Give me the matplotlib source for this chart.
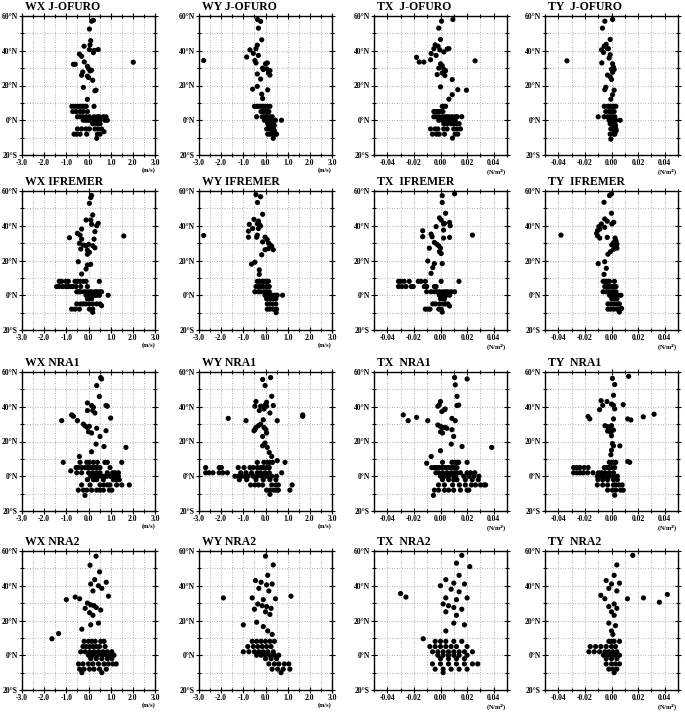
import numpy as np
import matplotlib.pyplot as plt
from matplotlib.ticker import MultipleLocator, FixedLocator

plt.rcParams['font.family'] = ['Liberation Serif', 'DejaVu Serif']
plt.rcParams['font.weight'] = 'bold'

# ----- data: (value, latitude) -----
wx_jofuro = [(0.14, 57.0), (0.22, 57.5), (0.04, 52.5), (-0.20, 42.6), (0.07, 43.4), (0.10, 45.8), (0.26, 40.2),
             (0.44, 40.7), (0.04, 40.7), (0.22, 38.9), (-0.41, 38.1), (-0.31, 36.8), (-0.68, 32.2), (-0.60, 32.2),
             (-0.19, 33.6), (-0.05, 31.1), (2.02, 33.4), (0.00, 29.8), (0.07, 28.4), (0.14, 28.8), (-0.26, 27.8),
             (-0.31, 25.9), (-0.05, 25.4), (0.00, 24.6), (0.19, 23.0), (-0.23, 18.9), (0.34, 17.3), (0.29, 17.0),
             (-0.05, 12.0),
             (-0.75, 8), (-0.62, 8), (-0.50, 8), (-0.40, 8), (-0.30, 8), (-0.20, 8), (-0.10, 8), (0.25, 8),
             (-0.71, 5), (-0.56, 5), (-0.38, 5), (-0.23, 5), (-0.05, 5),
             (-0.50, 2), (-0.38, 2), (-0.26, 2), (-0.11, 2), (0.04, 2), (0.25, 2), (0.40, 2), (0.49, 2), (0.67, 2), (0.79, 2),
             (-0.23, 0), (-0.11, 0), (0.00, 0), (0.10, 0), (0.22, 0), (0.37, 0), (0.52, 0), (0.74, 0), (0.85, 0),
             (0.19, -2), (0.37, -2), (0.52, -2),
             (-0.50, -5), (-0.31, -5), (-0.11, -5), (0.04, -5), (0.29, -5), (0.44, -5), (0.59, -5),
             (-0.65, -8), (-0.53, -8), (-0.38, -8), (-0.08, -8), (0.40, -8), (0.52, -8),
             (0.37, -10.4), (0.70, -6.6)]

wy_jofuro = [(-0.36, 58.0), (-0.22, 56.9), (-0.32, 53.0), (-0.17, 46.3), (-0.37, 43.2), (-0.43, 41.2), (-0.70, 40.5),
             (-0.55, 38.5), (-0.32, 37.3), (-0.85, 36.4), (-0.48, 34.4), (-0.43, 33.0), (-2.79, 34.4), (0.00, 32.5),
             (0.08, 33.0), (-0.13, 30.0), (-0.10, 29.2), (0.05, 29.6), (0.20, 28.6), (0.13, 27.2), (0.20, 26.0),
             (-0.37, 26.6), (-0.22, 23.7), (0.10, 17.5), (-0.58, 17.9), (-0.37, 19.5), (-0.17, 15.0), (-0.13, 12.5),
             (-0.50, 8), (-0.40, 8), (-0.30, 8), (-0.20, 8), (-0.10, 8), (0.00, 8), (0.10, 8), (0.20, 8),
             (-0.20, 5), (-0.10, 5), (0.00, 5), (0.05, 5), (0.15, 5),
             (-0.40, 2), (-0.15, 2), (-0.05, 2), (0.05, 2), (0.10, 2), (0.20, 2), (0.30, 2),
             (-0.05, 0), (0.05, 0), (0.15, 0), (0.25, 0), (0.35, 0), (0.45, 0), (0.72, 0),
             (0.10, -1), (0.20, -1), (0.30, -1),
             (0.10, -2), (0.20, -2), (0.30, -2), (0.35, -2),
             (0.15, -3), (0.25, -3), (0.40, -3),
             (0.05, -5), (0.15, -5), (0.25, -5), (0.35, -5),
             (0.30, -6), (0.40, -6),
             (0.10, -8), (0.20, -8), (0.30, -8), (0.45, -8), (0.50, -8),
             (0.35, -10.4)]

tx_jofuro = [(0.0093, 58.0), (0.0008, 57.0), (-0.0013, 53.0), (0.0, 46.5), (-0.004, 43.4), (-0.0018, 42.6),
             (-0.005, 41.2), (-0.0005, 40.5), (0.005, 41.0), (0.0063, 41.2), (0.0025, 39.3), (-0.007, 38.4),
             (-0.0033, 37.3), (-0.0075, 34.8), (-0.018, 36.2), (-0.016, 33.5), (-0.0125, 33.5), (0.026, 34.2),
             (0.0, 32.5), (0.0013, 31.4), (-0.0013, 30.0), (0.0025, 29.4), (0.0038, 28.5), (0.0013, 27.2),
             (0.0033, 25.7), (-0.0025, 26.3), (0.0088, 23.4), (0.0, 19.2), (0.013, 17.6), (0.0195, 17.3),
             (0.0088, 14.7), (0.0063, 12.1),
             (0.0013, 8), (0.0025, 8), (0.0038, 8),
             (-0.005, 5), (-0.004, 5), (-0.0025, 5), (-0.0013, 5), (0.0, 5), (0.0018, 5),
             (-0.005, 2), (-0.0033, 2), (-0.0013, 2), (0.0013, 2), (0.0033, 2), (0.005, 2), (0.0068, 2),
             (0.0088, 2), (0.011, 2), (0.0125, 2), (0.016, 2),
             (-0.0013, 0), (0.0013, 0), (0.0038, 0), (0.0063, 0), (0.0088, 0), (0.011, 0),
             (0.0025, -2), (0.005, -2), (0.008, -2), (0.010, -2), (0.012, -2), (0.014, -2),
             (-0.0075, -5), (-0.004, -5), (-0.002, -5), (0.0025, -5), (0.005, -5), (0.010, -5), (0.0125, -5), (0.015, -5),
             (-0.006, -8), (-0.003, -8), (-0.001, -8), (0.003, -8), (0.011, -8), (0.013, -8),
             (0.009, -10.3)]

ty_jofuro = [(0.0008, 58.0), (-0.005, 57.0), (-0.0068, 53.0), (-0.001, 46.5), (-0.004, 43.7), (-0.0055, 42.6),
             (-0.003, 41.2), (-0.0075, 40.5), (-0.006, 39.0), (-0.0023, 41.2), (-0.001, 37.7), (-0.0018, 35.8),
             (-0.0073, 33.0), (-0.0335, 34.2), (0.0008, 32.5), (0.0015, 30.5), (0.0, 29.4), (0.002, 29.2),
             (0.0008, 27.6), (-0.003, 26.0), (0.0, 23.5), (-0.001, 25.0), (-0.005, 17.6), (-0.0043, 19.0),
             (0.002, 17.3), (0.0008, 14.7), (-0.0005, 12.1),
             (-0.0055, 8), (-0.003, 8), (-0.0018, 8), (-0.0005, 8), (0.0008, 8), (0.002, 8), (0.0033, 8),
             (-0.0043, 5), (-0.0018, 5), (0.0, 5), (0.002, 5),
             (-0.010, 2), (-0.0055, 2), (-0.003, 2), (-0.001, 2), (0.0008, 2), (0.0025, 2),
             (-0.0018, 0), (0.0, 0), (0.0015, 0), (0.0033, 0), (0.0065, 0),
             (0.0, -1), (0.002, -1),
             (-0.001, -2), (0.0008, -2), (0.0025, -2),
             (0.001, -3), (0.003, -3),
             (-0.0005, -5), (0.0015, -5), (0.0033, -5),
             (0.002, -6), (0.0035, -6),
             (-0.001, -8), (0.0015, -8), (0.0025, -8),
             (-0.0005, -10.9)]

wx_ifremer = [(0.14, 57.4), (0.10, 56.2), (0.04, 52.9), (0.19, 46.2), (-0.11, 43.3), (0.10, 43.3), (0.14, 40.8),
              (0.44, 41.4), (0.37, 40.0), (0.29, 36.6), (-0.31, 38.1), (-0.50, 35.6), (-0.38, 34.6), (-0.86, 33.1),
              (-0.31, 32.3), (1.59, 34.1), (0.25, 32.3), (-0.41, 29.9), (-0.23, 28.9), (-0.11, 28.5), (0.0, 29.3),
              (0.19, 28.5), (0.29, 27.3), (-0.35, 26.6), (-0.05, 26.0), (0.04, 24.7), (-0.05, 23.6), (-0.46, 19.3),
              (-0.05, 17.4), (0.10, 17.8), (-0.11, 15.1), (-0.31, 12.2),
              (-1.32, 8), (-1.21, 8), (-1.02, 8), (-0.91, 8), (-0.61, 8), (-0.50, 8), (-0.38, 8), (-0.23, 8), (-0.11, 8), (0.49, 8),
              (-1.44, 5), (-1.32, 5), (-1.17, 5), (-1.02, 5), (-0.91, 5), (-0.80, 5), (-0.71, 5), (-0.56, 5), (-0.35, 5), (-0.05, 5),
              (-0.53, 2), (-0.45, 2), (-0.38, 2), (-0.23, 2), (-0.11, 2), (0.04, 2), (0.14, 2), (0.29, 2), (0.37, 2), (0.49, 2), (0.59, 2),
              (-0.11, 0), (0.0, 0), (0.10, 0), (0.19, 0), (0.29, 0), (0.37, 0), (0.49, 0), (0.89, 0),
              (-0.05, -2), (0.04, -2), (0.14, -2),
              (-0.53, -5), (-0.35, -5), (-0.23, -5), (-0.11, -5), (0.04, -5), (0.19, -5), (0.37, -5), (0.52, -5),
              (0.59, -6.0),
              (-0.76, -8), (-0.61, -8), (-0.41, -8), (0.04, -8), (0.19, -8),
              (0.19, -9.8)]

wy_ifremer = [(-0.43, 57.9), (-0.22, 56.7), (-0.36, 53.4), (-0.13, 46.6), (-0.52, 43.7), (-0.32, 42.7), (-0.73, 40.8),
              (-0.37, 41.2), (-0.28, 40.8), (-0.22, 39.8), (-0.58, 38.4), (-0.32, 38.4), (-0.77, 36.9), (-0.37, 34.6),
              (-0.40, 33.4), (-0.77, 33.4), (-2.79, 34.4), (-0.02, 33.4), (0.08, 32.0), (-0.13, 30.7), (0.13, 30.1),
              (0.20, 29.1), (0.28, 28.2), (0.13, 26.8), (0.35, 26.2), (-0.02, 26.2), (-0.17, 23.3), (-0.63, 17.9),
              (-0.48, 19.0), (-0.28, 14.6), (-0.28, 12.0),
              (-0.37, 8), (-0.28, 8), (-0.17, 8), (-0.10, 8), (-0.02, 8), (0.05, 8), (0.13, 8),
              (-0.43, 5), (-0.32, 5), (-0.22, 5), (-0.10, 5), (0.05, 5), (0.17, 5),
              (-0.48, 2), (-0.32, 2), (-0.22, 2), (-0.07, 2), (0.05, 2), (0.17, 2),
              (-0.02, 0), (0.08, 0), (0.20, 0), (0.32, 0), (0.43, 0), (0.53, 0), (0.77, 0),
              (0.05, -2), (0.20, -2), (0.35, -2), (0.47, -2),
              (0.08, -5), (0.20, -5), (0.32, -5), (0.47, -5),
              (0.08, -8), (0.20, -8), (0.35, -8), (0.50, -8),
              (0.48, -10.0)]

tx_ifremer = [(0.0106, 58.4), (0.0013, 57.3), (0.0013, 53.4), (0.0038, 47.2), (-0.0008, 44.5), (0.0005, 43.3),
              (0.0023, 41.0), (0.0068, 41.9), (0.0073, 40.0), (0.0030, 41.3), (-0.0033, 39.5), (0.0023, 37.5),
              (-0.0134, 37.1), (-0.0071, 35.2), (-0.0063, 33.7), (-0.0134, 33.7), (0.0023, 32.9), (0.0068, 33.3),
              (0.024, 34.6), (-0.0046, 30.4), (-0.0028, 29.4), (-0.0013, 28.4), (0.0, 27.1), (-0.0084, 27.1),
              (-0.0008, 25.1), (0.0005, 24.0), (-0.0096, 19.7), (-0.0046, 18.2), (0.0013, 18.2), (-0.0058, 15.9),
              (-0.0071, 12.6),
              (-0.0316, 8), (-0.0299, 8), (-0.0273, 8), (-0.0235, 8), (-0.0167, 8), (-0.0147, 8), (-0.0114, 8), (0.0005, 8), (0.0139, 8),
              (-0.0316, 5), (-0.0290, 5), (-0.0260, 5), (-0.0220, 5), (-0.0205, 5), (-0.0122, 5), (-0.0104, 5), (-0.0046, 5), (-0.0033, 5),
              (-0.0104, 2), (-0.0071, 2), (-0.0046, 2), (-0.0028, 2), (-0.0008, 2), (0.0018, 2), (0.0038, 2), (0.0056, 2), (0.0081, 2), (0.0106, 2),
              (-0.0008, 0), (0.0005, 0), (0.0023, 0), (0.0043, 0), (0.0068, 0),
              (0.0, -2), (0.0013, -2), (0.0030, -2),
              (-0.0058, -5), (-0.0038, -5), (-0.0008, -5), (0.0023, -5), (0.0038, -5), (0.0056, -5), (0.0068, -6.2),
              (-0.0114, -8), (-0.0096, -8), (-0.0079, -8), (-0.0013, -8), (0.0005, -8),
              (0.0013, -9.7)]

ty_ifremer = [(0.0, 58.4), (-0.0015, 57.4), (-0.0056, 53.5), (0.0, 47.2), (-0.0051, 43.9), (-0.0032, 42.6),
              (0.0017, 42.0), (0.0002, 41.0), (-0.0076, 41.0), (-0.0095, 39.5), (-0.0051, 39.1), (-0.0105, 37.2),
              (-0.0088, 38.1), (-0.0112, 35.6), (-0.0105, 34.2), (-0.0088, 32.9), (-0.038, 34.6), (-0.0032, 33.3),
              (0.0027, 32.9), (0.0034, 31.3), (0.0017, 30.4), (0.0041, 29.4), (0.0002, 29.0), (0.0027, 27.8),
              (0.0017, 26.5), (0.0041, 27.1), (-0.0027, 23.6), (-0.0007, 25.1), (-0.010, 18.2), (-0.0051, 19.3),
              (-0.0039, 15.5), (-0.0056, 12.0),
              (-0.0063, 8), (-0.0051, 8), (-0.0039, 8), (-0.0027, 8), (-0.0015, 8), (0.0022, 8),
              (-0.0051, 5), (-0.0032, 5), (-0.0015, 5), (0.0002, 5), (0.0017, 5), (0.0034, 5),
              (-0.0063, 2), (-0.0039, 2), (-0.0022, 2), (0.0, 2), (0.0017, 2), (0.0034, 2),
              (-0.0015, 0), (0.0002, 0), (0.0017, 0), (0.0034, 0), (0.0051, 0), (0.0071, 0),
              (0.0002, -2), (0.0022, -2), (0.0041, -2),
              (-0.0027, -5), (-0.0007, -5), (0.001, -5), (0.0027, -5), (0.0046, -5), (0.0059, -5),
              (-0.0027, -8), (-0.0007, -8), (0.0017, -8), (0.0041, -8), (0.0059, -8), (0.0076, -7.6),
              (0.0059, -9.7)]

wx_nra1 = [(0.55, 56.8), (0.59, 56.0), (0.37, 52.2), (0.49, 45.9), (-0.05, 42.2), (0.14, 40.7), (0.22, 39.7),
           (0.19, 37.8), (0.29, 36.4), (-0.05, 37.8), (0.79, 40.7), (0.85, 40.3), (1.00, 33.5), (-0.76, 35.3),
           (-0.68, 34.5), (-0.50, 32.0), (-1.21, 32.0), (-0.23, 30.0), (-0.16, 29.0), (-0.05, 28.1), (0.04, 28.7),
           (0.37, 27.6), (0.79, 26.2), (0.0, 25.6), (0.14, 24.9), (0.52, 22.9), (0.34, 18.5), (0.70, 17.1),
           (1.69, 16.6), (0.14, 14.1), (-0.41, 11.4),
           (-1.14, 8), (-0.38, 8), (-0.08, 8), (0.04, 8), (0.22, 8), (0.40, 8), (0.74, 8), (0.85, 8), (1.50, 8),
           (-0.56, 5), (-0.46, 5), (-0.31, 5), (-0.16, 5), (-0.05, 5), (0.07, 5), (0.19, 5), (0.29, 5), (0.40, 5), (0.52, 5), (0.97, 5),
           (-0.80, 3.1),
           (-0.53, 2), (-0.31, 2), (0.0, 2), (0.19, 2), (0.37, 2), (0.52, 2), (0.85, 2), (1.09, 2), (1.20, 2), (1.35, 2),
           (0.10, 0), (0.29, 0), (0.44, 0), (0.59, 0), (0.70, 0), (0.82, 0), (0.97, 0), (1.12, 0), (1.24, 0), (1.35, 0),
           (-0.05, -2), (0.22, -2), (0.37, -2), (0.67, -2), (1.12, -2), (1.27, -2), (1.39, -2),
           (-0.31, -5), (0.07, -5), (0.52, -5), (0.70, -5), (0.85, -5), (0.97, -5), (1.27, -5), (1.50, -5), (1.84, -5),
           (-0.46, -8), (-0.23, -8), (-0.08, -8), (0.14, -8), (0.37, -8), (0.52, -8), (0.67, -8), (0.94, -8), (1.05, -8),
           (-0.16, -11.0)]

wy_nra1 = [(-0.13, 55.7), (0.23, 56.8), (-0.02, 52.2), (0.28, 46.0), (-0.43, 43.0), (-0.48, 40.3), (-0.22, 40.3),
           (0.05, 42.6), (0.05, 40.3), (-0.02, 41.0), (0.35, 40.7), (0.20, 36.4), (-0.28, 37.8), (-0.07, 38.7),
           (-1.68, 33.3), (-0.88, 32.0), (0.53, 32.0), (1.68, 34.5), (1.68, 35.3), (-0.10, 32.5), (-0.32, 29.1),
           (-0.22, 30.0), (-0.43, 28.1), (-0.48, 26.8), (-0.07, 28.1), (0.02, 26.8), (-0.52, 26.2), (0.05, 24.9),
           (-0.13, 22.9), (-0.02, 19.1), (-0.13, 17.5), (0.08, 16.6), (0.17, 13.7), (0.28, 11.4),
           (-0.37, 8), (-0.07, 8), (0.08, 8), (0.20, 8), (0.32, 8), (0.53, 9.0), (0.88, 8),
           (-2.70, 5), (-2.09, 5), (-1.99, 5), (-1.23, 5), (-0.97, 5), (-0.70, 5), (-0.55, 5), (-0.37, 5), (-0.22, 5), (-0.10, 5), (0.05, 5), (0.17, 5),
           (-2.70, 2), (-2.55, 2), (-2.37, 2), (-2.09, 2), (-1.93, 2), (-1.72, 2), (-1.12, 2), (-0.88, 2), (-0.63, 2),
           (-0.37, 2), (-0.22, 2), (-0.02, 2), (0.17, 2), (0.73, 2),
           (-1.38, 0), (-1.23, 0), (-1.08, 0), (-0.93, 0), (-0.78, 0), (-0.55, 0), (-0.37, 0), (-0.17, 0), (0.05, 0), (0.28, 0), (0.50, 0),
           (-1.18, -2), (-0.85, -2), (-0.43, -2), (-0.10, -2), (0.20, -2), (0.47, -2),
           (-0.67, -5), (-0.48, -5), (-0.32, -5), (-0.13, -5), (0.28, -5), (0.47, -5), (0.58, -5), (1.20, -5),
           (0.05, -8), (0.20, -8), (0.38, -8), (0.50, -8), (0.58, -8), (1.10, -8),
           (0.20, -10.4)]

tx_nra1 = [(0.0106, 56.8), (0.020, 56.0), (0.0111, 52.6), (0.0124, 46.0), (0.0, 43.0), (-0.001, 41.0), (-0.002, 40.3),
           (0.0124, 40.7), (0.0137, 41.0), (0.0035, 38.7), (0.001, 37.2), (0.003, 38.3), (-0.028, 35.3), (-0.0243, 32.0),
           (-0.018, 33.9), (-0.0096, 32.0), (0.0086, 33.3), (0.0111, 32.0),
           (-0.002, 29.5), (0.0, 28.7), (0.0015, 28.1), (0.0035, 28.1), (0.0048, 27.6), (0.0086, 26.8), (0.0, 25.6),
           (0.0015, 24.9), (0.0099, 22.9), (0.0081, 18.5), (0.0162, 17.1), (0.0385, 16.6), (0.0, 14.7), (-0.007, 11.4),
           (-0.0104, 7.5),
           (0.0015, 8), (0.0086, 8), (0.0106, 8), (0.0124, 8), (0.0137, 8), (0.020, 8),
           (-0.0066, 5), (-0.0046, 5), (-0.0028, 5), (-0.001, 5), (0.001, 5), (0.003, 5), (0.0048, 5), (0.0066, 5), (0.0086, 5), (0.0106, 5), (0.0124, 5),
           (-0.0035, 2), (-0.0015, 2), (0.0015, 2), (0.0048, 2), (0.0081, 2), (0.0106, 2), (0.0124, 2), (0.015, 2), (0.020, 2), (0.0225, 2), (0.0258, 2),
           (0.0, 0), (0.0035, 0), (0.0061, 0), (0.0099, 0), (0.0116, 0), (0.0175, 0), (0.0213, 0), (0.0251, 0), (0.0289, 0),
           (0.0015, -2), (0.0061, -2), (0.0099, -2), (0.0124, -2), (0.0187, -2), (0.0238, -2), (0.0284, -2),
           (-0.0015, -5), (0.003, -5), (0.0091, -5), (0.0142, -5), (0.0187, -5), (0.0233, -5), (0.0263, -5), (0.0301, -5), (0.0327, -5), (0.0339, -5),
           (-0.0046, -8), (-0.0015, -8), (0.003, -8), (0.0061, -8), (0.0099, -8), (0.015, -8), (0.0200, -8), (0.0213, -8),
           (-0.0053, -11.0)]

ty_nra1 = [(0.0007, 56.3), (0.0129, 57.5), (0.0024, 52.8), (0.0015, 46.6), (-0.0078, 43.5), (-0.0034, 43.0),
           (-0.0066, 40.8), (-0.009, 38.3), (0.0, 41.5), (0.0015, 40.8), (0.0024, 38.8), (0.0088, 41.2), (-0.0176, 34.4),
           (-0.0163, 33.0), (0.0015, 33.0), (0.0122, 33.0), (0.0146, 32.4), (0.0239, 34.2), (0.032, 35.7),
           (-0.0049, 29.1), (-0.0029, 28.5), (-0.0017, 27.6), (0.0, 29.1), (0.0015, 26.6), (-0.0029, 26.0),
           (-0.0005, 25.2), (0.0, 23.3), (0.0007, 18.8), (0.0015, 17.5), (0.0063, 17.5), (0.0, 15.0), (-0.0005, 12.4),
           (-0.0017, 8), (0.0, 8), (0.0015, 8), (0.0032, 8), (0.0122, 8.5), (0.0137, 8),
           (-0.0285, 5), (-0.0261, 5), (-0.0237, 5), (-0.0205, 5), (-0.0176, 5), (-0.0054, 5), (-0.0034, 5), (-0.0017, 5), (0.0, 5), (0.0024, 5),
           (-0.0285, 2), (-0.0261, 2), (-0.0237, 2), (-0.0212, 2), (-0.0180, 2), (-0.0139, 2), (-0.0098, 2), (-0.0073, 2),
           (-0.0049, 2), (-0.0017, 2), (0.0015, 2),
           (-0.0107, 0), (-0.0078, 0), (-0.0049, 0), (-0.0017, 0), (0.0015, 0), (0.0044, 0),
           (-0.0102, -2), (-0.0066, -2), (-0.0029, -2), (0.0015, -2), (0.0044, -2),
           (-0.0107, -5), (-0.0066, -5), (-0.0029, -5), (0.0015, -5), (0.0032, -5), (0.0056, -5), (0.0080, -5),
           (-0.0029, -8), (0.0007, -8), (0.0032, -8), (0.0068, -8), (0.0088, -8),
           (0.0024, -10.9)]

wx_nra2 = [(0.34, 57.0), (0.07, 51.8), (0.50, 48.0), (0.80, 42.0), (0.28, 43.5), (0.10, 41.0), (0.45, 40.0),
           (0.60, 38.5), (0.20, 37.0), (-0.60, 33.5), (-0.40, 32.5), (-1.00, 32.0), (0.90, 34.0), (-0.05, 30.0),
           (0.10, 29.0), (0.25, 28.5), (0.35, 27.5), (-0.15, 27.0), (0.55, 26.0), (0.05, 24.5), (0.20, 23.0),
           (0.45, 18.5), (0.10, 17.5), (-0.30, 15.0), (-1.35, 12.5), (-1.65, 9.5),
           (-0.20, 8), (0.00, 8), (0.15, 8), (0.30, 8), (0.55, 8), (0.70, 8),
           (-0.25, 5), (-0.10, 5), (0.05, 5), (0.20, 5), (0.35, 5), (0.50, 5), (0.75, 5),
           (-0.35, 2), (-0.15, 2), (0.05, 2), (0.25, 2), (0.45, 2), (0.65, 2), (0.85, 2), (1.05, 2),
           (0.00, 0), (0.20, 0), (0.40, 0), (0.60, 0), (0.80, 0), (1.00, 0), (1.15, 0),
           (0.10, -2), (0.35, -2), (0.60, -2), (0.85, -2), (1.05, -2),
           (-0.45, -5), (-0.25, -5), (0.00, -5), (0.20, -5), (0.45, -5), (0.70, -5), (0.90, -5), (1.10, -5), (1.25, -5),
           (-0.40, -8), (-0.20, -8), (0.05, -8), (0.25, -8), (0.50, -8), (0.80, -8),
           (-0.30, -10.0), (0.60, -10.0)]

wy_nra2 = [(0.00, 57.0), (0.35, 52.0), (0.10, 46.0), (-0.45, 43.0), (-0.20, 42.0), (0.05, 40.5), (0.30, 41.0),
           (-0.30, 38.5), (0.15, 37.0), (-1.90, 33.0), (1.15, 34.0), (-0.60, 33.0), (-0.10, 32.0), (0.45, 32.5),
           (-0.35, 29.5), (-0.15, 28.5), (0.05, 28.0), (0.25, 27.0), (-0.50, 26.5), (0.00, 25.0), (0.20, 23.5),
           (-1.00, 17.5), (-0.40, 19.0), (-0.10, 16.5), (0.10, 14.0), (0.30, 12.0),
           (-0.60, 8), (-0.40, 8), (-0.20, 8), (0.00, 8), (0.20, 8), (0.40, 8),
           (-0.80, 5), (-0.55, 5), (-0.35, 5), (-0.15, 5), (0.05, 5), (0.25, 5),
           (-1.00, 2), (-0.75, 2), (-0.50, 2), (-0.30, 2), (-0.10, 2), (0.10, 2), (0.35, 2),
           (-0.40, 0), (-0.20, 0), (0.00, 0), (0.20, 0), (0.40, 0), (0.60, 0),
           (0.00, -2), (0.25, -2), (0.50, -2),
           (0.15, -5), (0.40, -5), (0.60, -5), (0.85, -5), (1.05, -5),
           (0.30, -8), (0.55, -8), (0.80, -8), (1.10, -8),
           (0.70, -10.0)]

tx_nra2 = [(0.016, 57.5), (0.022, 51.0), (0.012, 53.0), (0.014, 46.0), (0.004, 43.5), (0.010, 41.5), (0.018, 41.0),
           (0.000, 40.0), (0.008, 38.0), (0.014, 36.5), (-0.030, 35.5), (-0.026, 33.5), (0.004, 33.0), (0.012, 32.0),
           (0.020, 33.0), (0.002, 29.5), (0.006, 28.5), (0.010, 27.5), (0.016, 26.5), (0.004, 25.0), (0.012, 23.0),
           (0.010, 18.5), (0.018, 17.5), (0.004, 14.0), (-0.013, 9.5),
           (-0.004, 8), (0.000, 8), (0.004, 8), (0.010, 8), (0.016, 8),
           (-0.008, 5), (-0.004, 5), (0.000, 5), (0.004, 5), (0.008, 5), (0.012, 5), (0.020, 5),
           (-0.006, 2), (-0.002, 2), (0.002, 2), (0.006, 2), (0.010, 2), (0.014, 2), (0.018, 2), (0.024, 2),
           (-0.002, 0), (0.002, 0), (0.006, 0), (0.010, 0), (0.014, 0), (0.020, 0),
           (0.000, -2), (0.006, -2), (0.012, -2), (0.018, -2),
           (-0.006, -5), (0.000, -5), (0.006, -5), (0.012, -5), (0.018, -5), (0.024, -5), (0.028, -5),
           (-0.004, -8), (0.002, -8), (0.008, -8), (0.014, -8), (0.020, -8),
           (0.002, -10.0)]

ty_nra2 = [(0.016, 57.5), (0.004, 52.0), (0.002, 46.0), (-0.004, 43.0), (0.000, 41.0), (0.006, 41.5), (-0.002, 38.5),
           (0.004, 37.0), (-0.008, 34.5), (-0.005, 32.5), (0.036, 30.5), (0.042, 35.0), (0.024, 33.0), (0.012, 32.5),
           (0.002, 29.5), (-0.002, 28.0), (0.004, 27.0), (0.000, 25.0), (0.002, 23.0), (-0.002, 18.5), (0.003, 17.0),
           (0.000, 14.0), (0.001, 12.0),
           (-0.002, 8), (0.000, 8), (0.002, 8), (0.006, 8),
           (-0.016, 5), (-0.012, 5), (-0.008, 5), (-0.004, 5), (0.000, 5), (0.003, 5),
           (-0.017, 2), (-0.013, 2), (-0.009, 2), (-0.005, 2), (-0.002, 2), (0.001, 2), (0.004, 2),
           (-0.006, 0), (-0.003, 0), (0.000, 0), (0.003, 0), (0.006, 0),
           (-0.004, -2), (0.000, -2), (0.004, -2),
           (-0.004, -5), (0.000, -5), (0.003, -5), (0.006, -5),
           (-0.002, -8), (0.001, -8), (0.004, -8),
           (0.002, -10.0)]

row_names = ["J-OFURO", "IFREMER", "NRA1", "NRA2"]
col_names = ["WX", "WY", "TX", "TY"]
panels = [[wx_jofuro, wy_jofuro, tx_jofuro, ty_jofuro],
          [wx_ifremer, wy_ifremer, tx_ifremer, ty_ifremer],
          [wx_nra1, wy_nra1, tx_nra1, ty_nra1],
          [wx_nra2, wy_nra2, tx_nra2, ty_nra2]]

lat_ticks = [-20, 0, 20, 40, 60]
lat_labels = ["20°S", "0°N", "20°N", "40°N", "60°N"]
wind_ticks = [-3.0, -2.0, -1.0, 0.0, 1.0, 2.0, 3.0]
stress_ticks = [-0.04, -0.02, 0.00, 0.02, 0.04]

# ----- layout (pixels in a 685x713 canvas) -----
W, H = 685, 713
col_left = [22, 199, 374, 545]
row_top = [16, 191, 372, 551]
ax_w, ax_h = 133, 139


def draw_panel(ax, pts, title, is_wind):
    x = [p[0] for p in pts]
    y = [p[1] for p in pts]
    ax.scatter(x, y, s=14, c='black', edgecolors='none', zorder=3, clip_on=False)

    if is_wind:
        ax.set_xlim(-3, 3)
        ax.xaxis.set_major_locator(FixedLocator(wind_ticks))
        ax.set_xticklabels([f"{t:.1f}" for t in wind_ticks])
        ax.xaxis.set_minor_locator(MultipleLocator(0.5))
        unit = "(m/s)"
    else:
        ax.set_xlim(-0.05, 0.05)
        ax.xaxis.set_major_locator(FixedLocator(stress_ticks))
        ax.set_xticklabels([f"{t:.2f}" for t in stress_ticks])
        ax.xaxis.set_minor_locator(MultipleLocator(0.01))
        unit = "(N/m$^\\mathbf{2}$)"

    ax.set_ylim(-20, 60)
    ax.yaxis.set_major_locator(FixedLocator(lat_ticks))
    ax.set_yticklabels(lat_labels)
    ax.yaxis.set_minor_locator(MultipleLocator(10))

    ax.grid(which='both', color='#9a9a9a', linestyle=(0, (1, 2)), linewidth=0.6)
    ax.tick_params(which='both', direction='inout', top=True, right=True,
                   labelsize=5.5, pad=1.0, width=0.8)
    ax.tick_params(which='major', length=4)
    ax.tick_params(which='minor', length=2.5)
    for lab in ax.get_xticklabels() + ax.get_yticklabels():
        lab.set_fontweight('bold')
    for sp in ax.spines.values():
        sp.set_linewidth(1.0)

    ax.text(0.02, 1.025, title, transform=ax.transAxes, ha='left', va='bottom',
            fontsize=8.5, fontweight='bold')
    # unit label, under the right end of the tick labels
    ax.text(1.0, -0.09, unit, transform=ax.transAxes, ha='right', va='top',
            fontsize=4.5, fontweight='bold')


fig = plt.figure(figsize=(W / 100, H / 100), dpi=100)
for r in range(4):
    for c in range(4):
        rect = [col_left[c] / W, 1 - (row_top[r] + ax_h) / H, ax_w / W, ax_h / H]
        ax = fig.add_axes(rect)
        sep = " " if c < 2 else "  "
        draw_panel(ax, panels[r][c], col_names[c] + sep + row_names[r], c < 2)

fig.savefig("out.png", dpi=100)
